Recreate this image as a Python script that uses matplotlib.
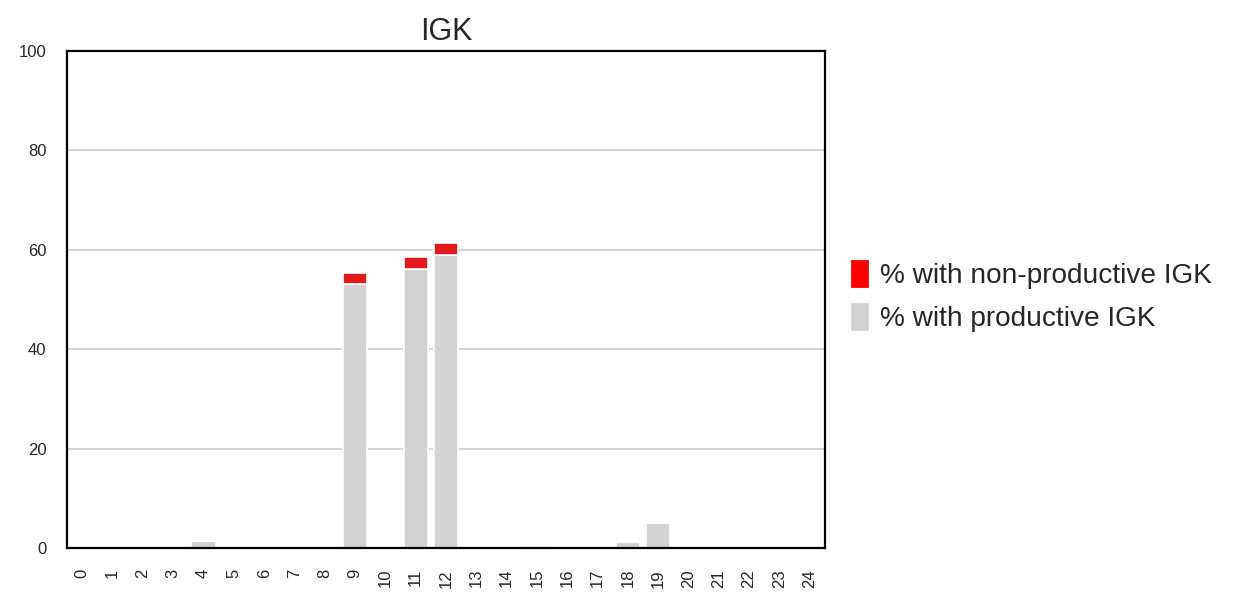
import numpy as np
import matplotlib
matplotlib.use("Agg")
import matplotlib.pyplot as plt
import matplotlib.patches as mpatches
import seaborn as sns

# dati (percentuali per cluster)
clusters = [str(i) for i in range(25)]
productive = [0, 0, 0, 0, 1.4, 0, 0, 0, 0, 53.1, 0, 56.1, 59.0, 0, 0, 0.4,
              0, 0, 1.2, 5.0, 0, 0, 0, 0, 0]
non_productive = [0, 0, 0, 0, 0, 0, 0, 0, 0, 2.2, 0, 2.4, 2.4, 0, 0, 0,
                  0, 0, 0, 0, 0, 0, 0, 0, 0]

sns.set_style("white")
plt.rcParams['font.family'] = ['Arial', 'Liberation Sans', 'DejaVu Sans']

fig = plt.figure(figsize=(6.22, 3.025), dpi=200)
ax = fig.add_axes([0.054, 0.094, 0.609, 0.822])

x = np.arange(len(clusters))
ax.bar(x, productive, width=0.8, color='lightgray', edgecolor='white', linewidth=0.6, zorder=2)
ax.bar(x, non_productive, bottom=productive, width=0.8, color='#e31a1c',
       edgecolor='white', linewidth=0.6, zorder=2)

ax.set_xlim(-0.5, len(clusters) - 0.5)
ax.set_ylim(0, 100)
ax.set_xticks(x)
ax.set_xticklabels(clusters, rotation=90, fontsize=6)
ax.set_yticks([0, 20, 40, 60, 80, 100])
ax.tick_params(axis='y', labelsize=6, pad=4)
ax.tick_params(axis='x', pad=4)
ax.yaxis.grid(True, color='#cccccc', linewidth=0.6, zorder=0)
ax.set_axisbelow(True)
for s in ax.spines.values():
    s.set_color('black')
    s.set_linewidth(0.8)
ax.set_title('IGK', fontsize=11, pad=4)

handles = [mpatches.Patch(color='red', label='% with non-productive IGK'),
           mpatches.Patch(color='lightgray', label='% with productive IGK')]
fig.legend(handles=handles, loc='center left', bbox_to_anchor=(0.6645, 0.51),
           frameon=False, fontsize=10.1, handlelength=0.55, handleheight=1.0,
           handletextpad=0.45, labelspacing=0.55)

fig.savefig('out.png', dpi=200)
